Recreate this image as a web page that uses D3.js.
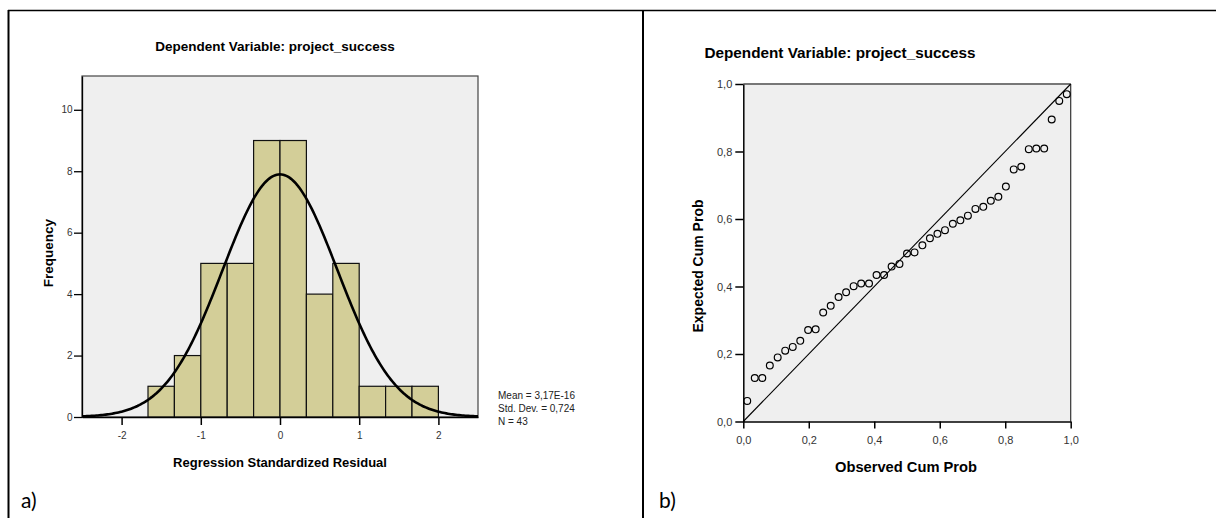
<!DOCTYPE html>
<html>
<head>
<meta charset="utf-8">
<script src="https://cdn.jsdelivr.net/npm/d3@7"></script>
<style>
  body { margin: 0; background: #fff; }
  svg { display: block; font-family: Arial, "Liberation Sans", sans-serif; }
  .tick text { fill: #333; }
</style>
</head>
<body>
<svg id="chart" width="1216" height="518"></svg>
<script>
// histogram of standardized residuals (bin edges + counts)
const binEdges = [-5/3, -4/3, -1, -2/3, -1/3, 0, 1/3, 2/3, 1, 4/3, 5/3, 2]
const binCounts = [1, 2, 5, 5, 9, 9, 4, 5, 1, 1, 1]
const histTicksX = [-2, -1, 0, 1, 2]
const histTicksY = [0, 2, 4, 6, 8, 10]
const resMean = 3.17e-16
const resSd = 0.724
const resN = 43
const statLines = ["Mean = 3,17E-16", "Std. Dev. = 0,724", "N = 43"]

// P-P plot
const observedCum = [0.012, 0.035, 0.058, 0.081, 0.105, 0.128, 0.151, 0.174, 0.198, 0.221,
    0.244, 0.267, 0.291, 0.314, 0.337, 0.360, 0.384, 0.407, 0.430, 0.453,
    0.477, 0.500, 0.523, 0.547, 0.570, 0.593, 0.616, 0.640, 0.663, 0.686,
    0.709, 0.733, 0.756, 0.779, 0.802, 0.826, 0.849, 0.872, 0.895, 0.919,
    0.942, 0.965, 0.988]
const expectedCum = [0.061, 0.129, 0.129, 0.166, 0.190, 0.210, 0.221, 0.239, 0.271, 0.273,
    0.323, 0.343, 0.369, 0.383, 0.401, 0.409, 0.409, 0.434, 0.434, 0.459,
    0.467, 0.498, 0.501, 0.522, 0.543, 0.556, 0.567, 0.586, 0.596, 0.610,
    0.630, 0.636, 0.654, 0.666, 0.696, 0.747, 0.755, 0.807, 0.809, 0.809,
    0.895, 0.950, 0.970]
const ppTicks = [0, 0.2, 0.4, 0.6, 0.8, 1.0]

const title = "Dependent Variable: project_success"
const commaFmt = d => d3.format(".1f")(d).replace(".", ",")
const plainFmt = d => String(d)

const svg = d3.select("#chart")

// page frame (table borders)
svg.append("line").attr("x1", 8).attr("x2", 1216).attr("y1", 10.5).attr("y2", 10.5)
    .attr("stroke", "#000").attr("stroke-width", 1.5)
svg.append("line").attr("x1", 8.5).attr("x2", 8.5).attr("y1", 10).attr("y2", 518)
    .attr("stroke", "#000").attr("stroke-width", 2)
svg.append("line").attr("x1", 643).attr("x2", 643).attr("y1", 10).attr("y2", 518)
    .attr("stroke", "#000").attr("stroke-width", 2)

// shared tweak for d3 axes: drop d3's default font so the page font is used
const styleAxis = (g, size, width) => {
    g.attr("font-family", null).attr("font-size", null)
    g.selectAll("text").attr("font-size", size)
    g.selectAll("line, path").attr("stroke", "#000").attr("stroke-width", width)
}

// ---------- a) histogram ----------
const hx = d3.scaleLinear().domain([-2.5, 2.5]).range([82, 478])
const hy = d3.scaleLinear().domain([0, 11.1]).range([417, 76])

svg.append("text")
    .attr("x", 275).attr("y", 51)
    .attr("text-anchor", "middle")
    .attr("font-size", "13.5px").attr("font-weight", "bold")
    .text(title)

svg.append("rect")
    .attr("x", hx(-2.5)).attr("y", hy(11.1))
    .attr("width", hx(2.5) - hx(-2.5)).attr("height", hy(0) - hy(11.1))
    .attr("fill", "#efefef")
    .attr("stroke", "#444").attr("stroke-width", 1.2)

svg.append("g")
    .selectAll("rect")
    .data(binCounts)
    .join("rect")
    .attr("x", (d, i) => hx(binEdges[i]))
    .attr("y", d => hy(d))
    .attr("width", (d, i) => hx(binEdges[i + 1]) - hx(binEdges[i]))
    .attr("height", d => hy(0) - hy(d))
    .attr("fill", "#d3ce98")
    .attr("stroke", "#111").attr("stroke-width", 1.2)

// fitted normal curve from the mean / sd / N printed on the chart
const binWidth = binEdges[1] - binEdges[0]
const curvePts = d3.range(-2.5, 2.501, 0.02).map(v => [v,
    resN * binWidth * Math.exp(-0.5 * ((v - resMean) / resSd) ** 2) / (resSd * Math.sqrt(2 * Math.PI))])

svg.append("path")
    .datum(curvePts)
    .attr("d", d3.line().x(d => hx(d[0])).y(d => hy(d[1])))
    .attr("fill", "none")
    .attr("stroke", "#000").attr("stroke-width", 2.6)

svg.append("g")
    .attr("transform", `translate(${hx(-2.5)},0)`)
    .call(d3.axisLeft(hy).tickValues(histTicksY).tickFormat(plainFmt).tickSize(8).tickPadding(1.5).tickSizeOuter(0))
    .call(g => styleAxis(g, "10px", 1.3))

svg.append("g")
    .attr("transform", `translate(0,${hy(0)})`)
    .call(d3.axisBottom(hx).tickValues(histTicksX).tickFormat(plainFmt).tickSize(8).tickPadding(7).tickSizeOuter(0))
    .call(g => styleAxis(g, "10px", 1.5))

svg.append("text")
    .attr("transform", "translate(53,253) rotate(-90)")
    .attr("text-anchor", "middle")
    .attr("font-size", "13.5px").attr("font-weight", "bold")
    .text("Frequency")

svg.append("text")
    .attr("x", 280).attr("y", 467)
    .attr("text-anchor", "middle")
    .attr("font-size", "13px").attr("font-weight", "bold")
    .text("Regression Standardized Residual")

svg.append("g")
    .selectAll("text")
    .data(statLines)
    .join("text")
    .attr("x", 498)
    .attr("y", (d, i) => 399 + i * 13.2)
    .attr("font-size", "10px")
    .attr("fill", "#222")
    .text(d => d)

svg.append("text")
    .attr("x", 21).attr("y", 508)
    .attr("font-family", "Lato, 'Open Sans', sans-serif")
    .attr("font-size", "21px")
    .text("a)")

// ---------- b) P-P plot ----------
const px = d3.scaleLinear().domain([0, 1]).range([743.3, 1070.7])
const py = d3.scaleLinear().domain([0, 1]).range([421.5, 84])

svg.append("text")
    .attr("x", 840).attr("y", 58)
    .attr("text-anchor", "middle")
    .attr("font-size", "15.3px").attr("font-weight", "bold")
    .text(title)

svg.append("rect")
    .attr("x", px(0)).attr("y", py(1))
    .attr("width", px(1) - px(0)).attr("height", py(0) - py(1))
    .attr("fill", "#efefef")
    .attr("stroke", "none")
svg.append("line")
    .attr("x1", px(0)).attr("x2", px(1)).attr("y1", py(1)).attr("y2", py(1))
    .attr("stroke", "#777").attr("stroke-width", 2)
svg.append("line")
    .attr("x1", px(1)).attr("x2", px(1)).attr("y1", py(1)).attr("y2", py(0))
    .attr("stroke", "#333").attr("stroke-width", 1.2)

svg.append("line")
    .attr("x1", px(0)).attr("y1", py(0))
    .attr("x2", px(1)).attr("y2", py(1))
    .attr("stroke", "#000").attr("stroke-width", 1.1)

svg.append("g")
    .selectAll("circle")
    .data(observedCum)
    .join("circle")
    .attr("cx", d => px(d))
    .attr("cy", (d, i) => py(expectedCum[i]))
    .attr("r", 3.4)
    .attr("fill", "none")
    .attr("stroke", "#000").attr("stroke-width", 1.2)

svg.append("g")
    .attr("transform", `translate(${px(0)},0)`)
    .call(d3.axisLeft(py).tickValues(ppTicks).tickFormat(commaFmt).tickSize(8).tickPadding(3).tickSizeOuter(0))
    .call(g => styleAxis(g, "11px", 1.5))

svg.append("g")
    .attr("transform", `translate(0,${py(0)})`)
    .call(d3.axisBottom(px).tickValues(ppTicks).tickFormat(commaFmt).tickSize(7).tickPadding(8).tickSizeOuter(0))
    .call(g => styleAxis(g, "11px", 1.5))

svg.append("text")
    .attr("transform", "translate(703,266) rotate(-90)")
    .attr("text-anchor", "middle")
    .attr("font-size", "14px").attr("font-weight", "bold")
    .text("Expected Cum Prob")

svg.append("text")
    .attr("x", 906).attr("y", 472)
    .attr("text-anchor", "middle")
    .attr("font-size", "14.7px").attr("font-weight", "bold")
    .text("Observed Cum Prob")

svg.append("text")
    .attr("x", 659).attr("y", 508)
    .attr("font-family", "Lato, 'Open Sans', sans-serif")
    .attr("font-size", "21px")
    .text("b)")
</script>
</body>
</html>
